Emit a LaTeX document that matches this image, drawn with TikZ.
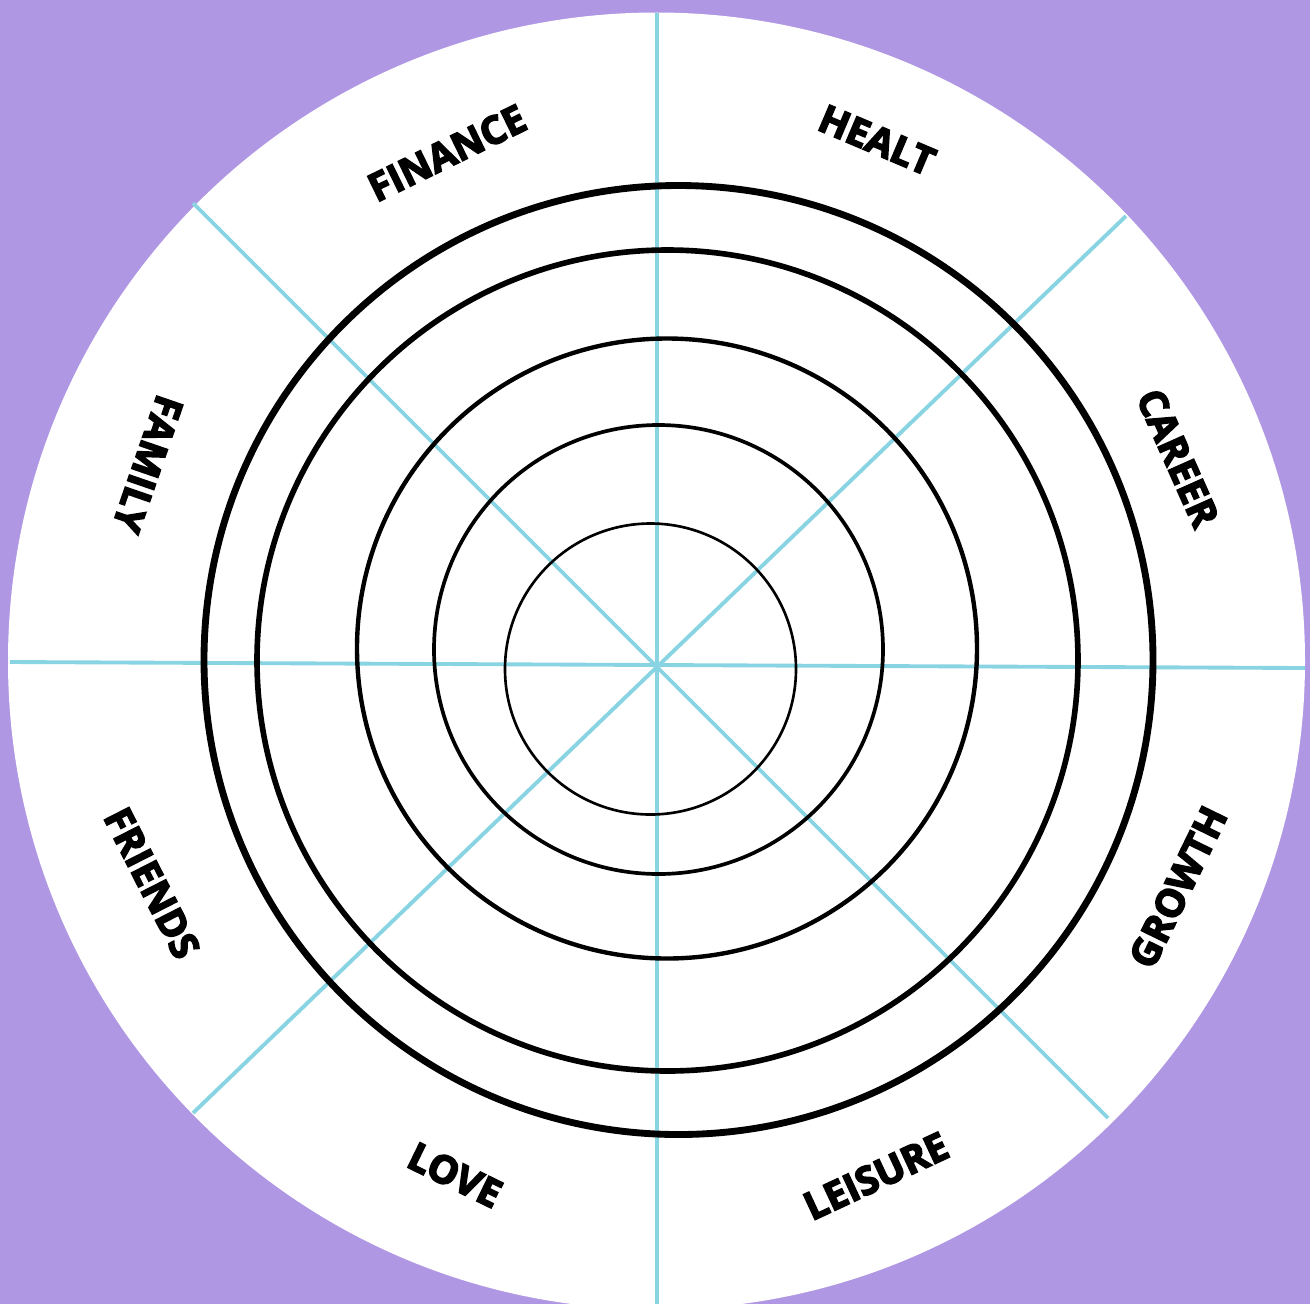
\documentclass[tikz,border=0pt]{standalone}
\usepackage{fontspec}
\setmainfont{Open Sans}
\definecolor{bgpurple}{RGB}{176,151,228}
\definecolor{spokeblue}{RGB}{136,212,226}
\newcommand\heavytext[1]{\special{pdf:literal direct 2 Tr 0.45 w}#1\special{pdf:literal direct 0 Tr}}
\tikzset{
    spoke/.style={spokeblue, line width=1.1pt},
    ring/.style={black},
    area/.style={font=\bfseries\fontsize{11}{13}\selectfont}
}
\begin{document}
\begin{tikzpicture}
            \useasboundingbox (0,0) rectangle (13.1,-13.04);
            \fill[bgpurple] (0,0) rectangle (13.1,-13.04);
            \begin{scope}
                \clip (0,0) rectangle (13.1,-13.04);
                \fill[white] (6.565,-6.61) circle (6.485);
            \end{scope}

            % spokes
            \draw[spoke] (6.57,-0.13) -- (6.57,-13.04);
            \draw[spoke] (0.10,-6.62) -- (13.05,-6.68);
            \draw[spoke] (1.93,-2.03) -- (11.08,-11.18);
            \draw[spoke] (11.26,-2.16) -- (1.93,-11.13);

            % rings
            \draw[ring, line width=1.95pt] (6.785,-6.60) circle (4.745);
            \draw[ring, line width=1.6pt] (6.675,-6.605) circle (4.105);
            \draw[ring, line width=1.25pt] (6.67,-6.485) circle (3.10);
            \draw[ring, line width=1.05pt] (6.585,-6.495) circle (2.245);
            \draw[ring, line width=0.75pt] (6.505,-6.69) circle (1.455);

            % labels
            \node[area, rotate=26] (finance) at (4.47,-1.53) {\heavytext{FINANCE}};
            \node[area, rotate=-23] (healt) at (8.77,-1.40) {\heavytext{HEALT}};
            \node[area, rotate=-66] (career) at (11.78,-4.58) {\heavytext{CAREER}};
            \node[area, rotate=64] (growth) at (11.78,-8.87) {\heavytext{GROWTH}};
            \node[area, rotate=25] (leisure) at (8.76,-11.76) {\heavytext{LEISURE}};
            \node[area, rotate=-26] (love) at (4.55,-11.75) {\heavytext{LOVE}};
            \node[area, rotate=-63] (friends) at (1.52,-8.83) {\heavytext{FRIENDS}};
            \node[area, rotate=-109] (family) at (1.48,-4.64) {\heavytext{FAMILY}};
\end{tikzpicture}
\end{document}
